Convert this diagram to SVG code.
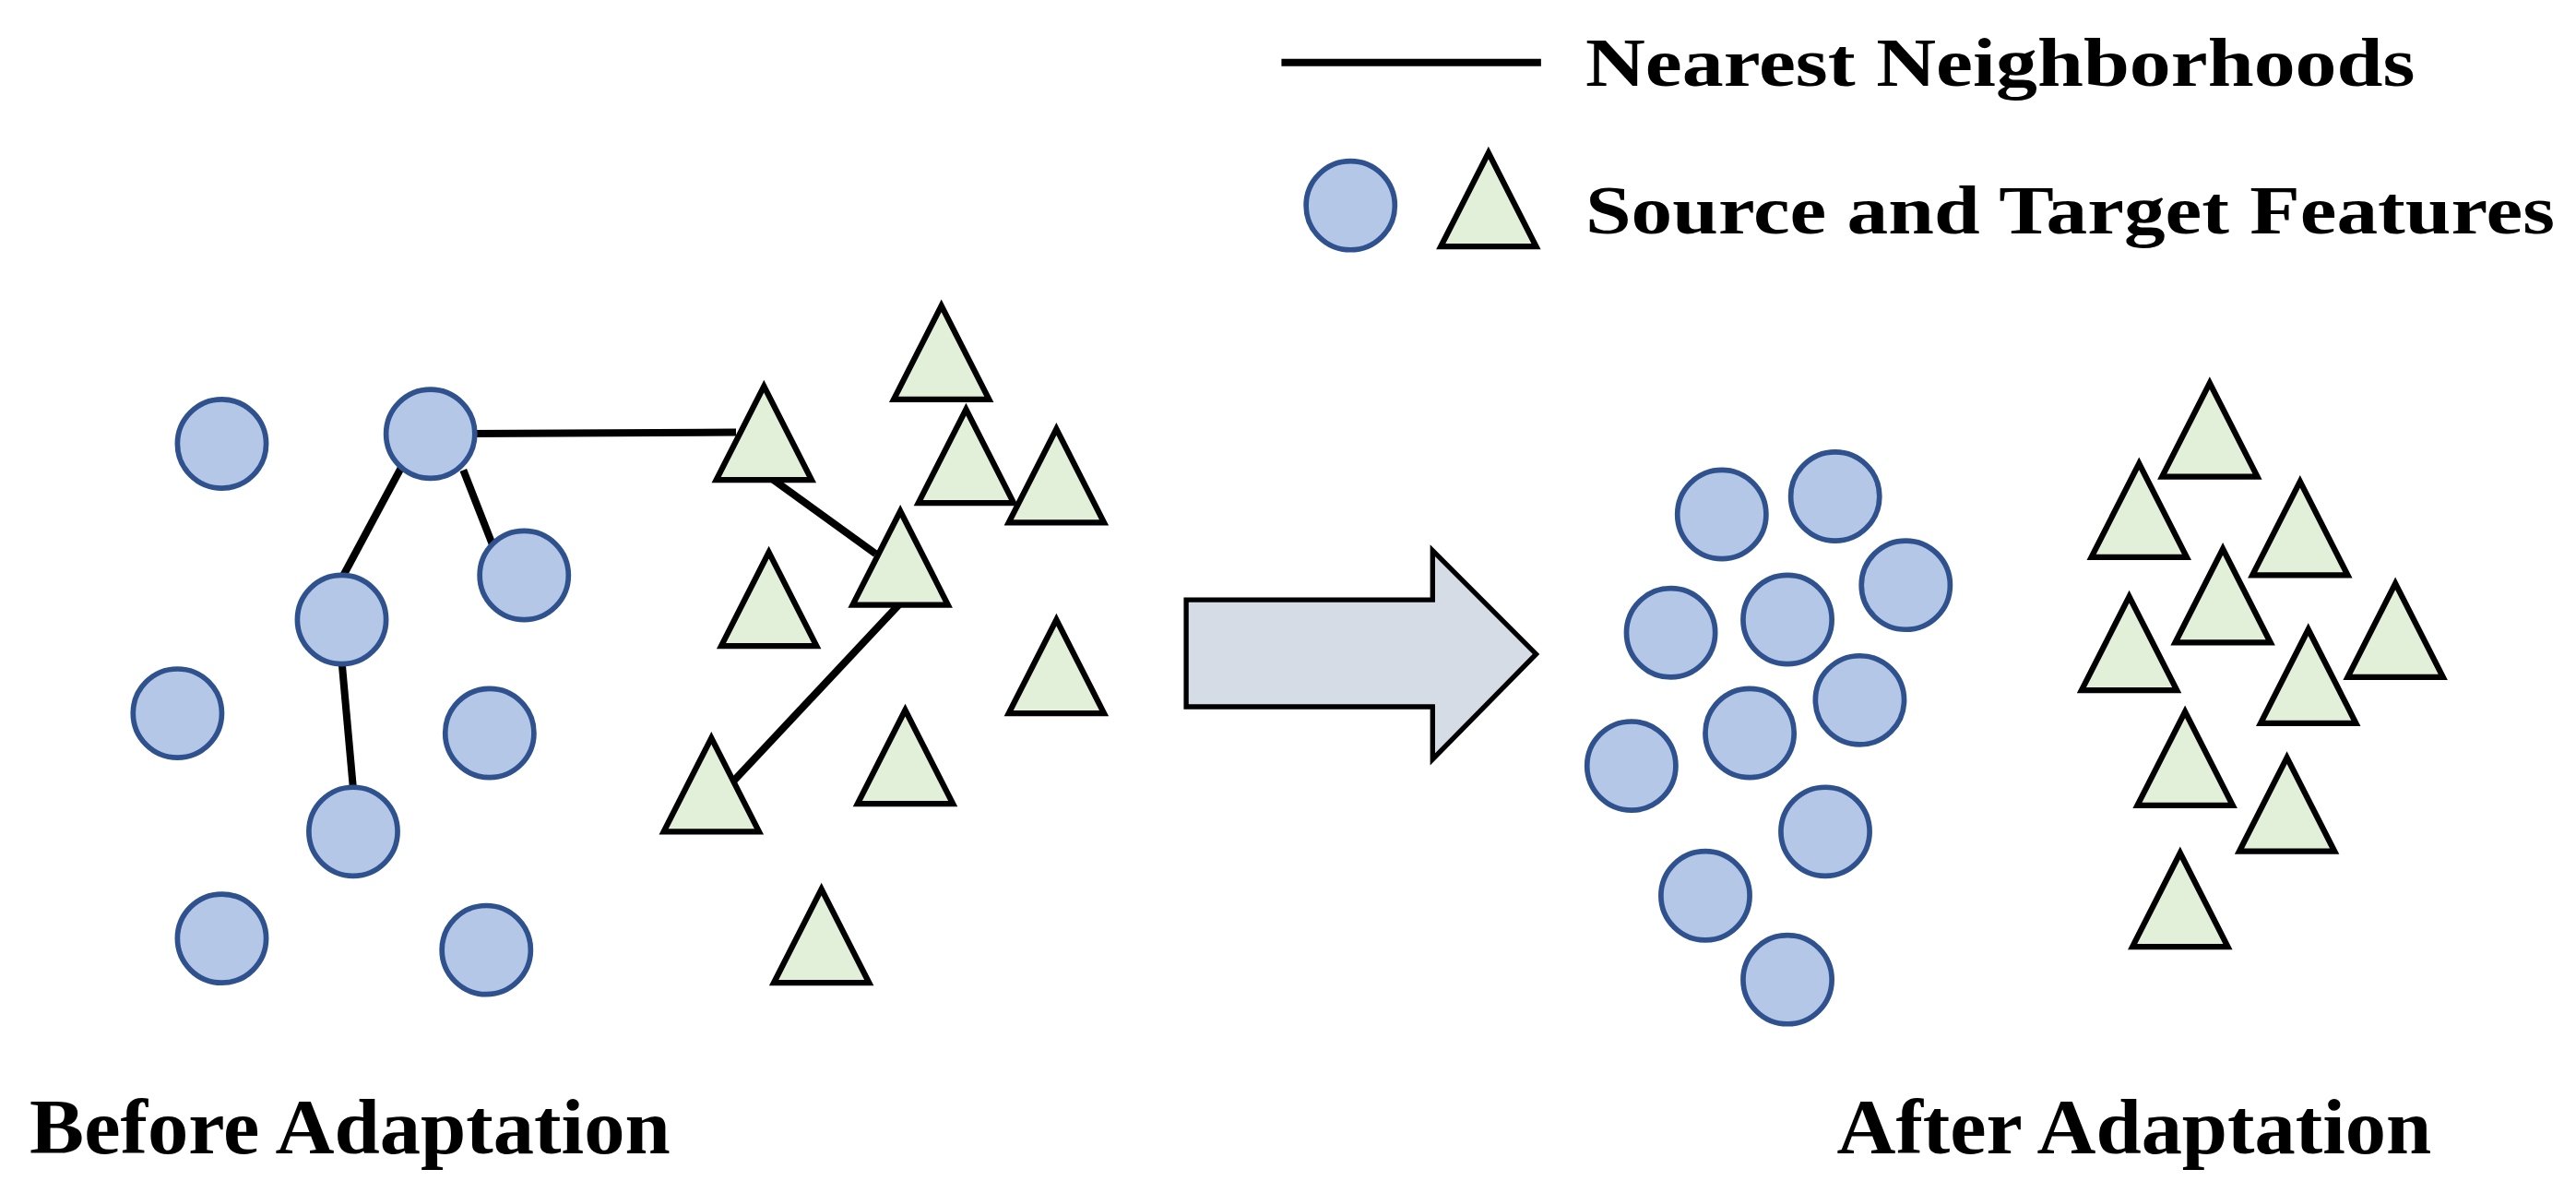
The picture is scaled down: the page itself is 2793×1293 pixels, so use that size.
<svg xmlns="http://www.w3.org/2000/svg" width="2793" height="1293" viewBox="0 0 2793 1293">
<defs>
<style>
.c{fill:#b4c7e7;stroke:#2f528f;stroke-width:3.2}
.t{fill:#e2f0d9;stroke:#000;stroke-width:3.5;stroke-linejoin:miter}
.l{stroke:#000;stroke-width:4.5;fill:none}
.tx{font-family:"Liberation Serif",serif;font-weight:bold;fill:#000}
</style>
<circle id="cir" class="c" r="27"/>
<polygon id="tri" class="t" points="0,-29 -29,28 29,28"/>
</defs>
<rect width="2793" height="1293" fill="#fff"/>
<g transform="scale(1.7813)">
<g id="connectors">
<line class="l" x1="262" y1="264" x2="448" y2="263"/>
<line class="l" x1="468" y1="290" x2="533" y2="337"/>
<line class="l" x1="548" y1="367" x2="442" y2="480"/>
<line class="l" x1="245" y1="283" x2="208" y2="352"/>
<line class="l" x1="282" y1="286" x2="300" y2="332"/>
<line class="l" x1="208" y1="402" x2="215" y2="480"/>
</g>
<g id="before-circles">
<use href="#cir" x="135" y="270"/><use href="#cir" x="262" y="264"/><use href="#cir" x="319" y="350"/>
<use href="#cir" x="208" y="377"/><use href="#cir" x="108" y="434"/><use href="#cir" x="298" y="446"/>
<use href="#cir" x="215" y="506"/><use href="#cir" x="135" y="571"/><use href="#cir" x="296" y="578"/>
</g>
<g id="before-triangles">
<use href="#tri" x="465" y="264"/><use href="#tri" x="573" y="215"/><use href="#tri" x="588" y="278"/>
<use href="#tri" x="643" y="290"/><use href="#tri" x="548" y="340"/><use href="#tri" x="468" y="365"/>
<use href="#tri" x="643" y="406"/><use href="#tri" x="551" y="461"/><use href="#tri" x="433" y="478"/>
<use href="#tri" x="500" y="570"/>
</g>
<g id="arrow">
<polygon points="722,365 872,365 872,335 935,398 872,462 872,430 722,430" fill="#d6dce5" stroke="#000" stroke-width="3"/>
</g>
<g id="after-circles">
<use href="#cir" x="1048" y="313"/><use href="#cir" x="1117" y="302"/><use href="#cir" x="1160" y="356"/>
<use href="#cir" x="1017" y="385"/><use href="#cir" x="1088" y="377"/><use href="#cir" x="1132" y="426"/>
<use href="#cir" x="1065" y="446"/><use href="#cir" x="993" y="466"/><use href="#cir" x="1111" y="506"/>
<use href="#cir" x="1038" y="545"/><use href="#cir" x="1088" y="596"/>
</g>
<g id="after-triangles">
<use href="#tri" x="1345" y="262"/><use href="#tri" x="1302" y="311"/><use href="#tri" x="1400" y="322"/>
<use href="#tri" x="1353" y="363"/><use href="#tri" x="1296" y="392"/><use href="#tri" x="1458" y="384"/>
<use href="#tri" x="1405" y="412"/><use href="#tri" x="1330" y="462"/><use href="#tri" x="1392" y="490"/>
<use href="#tri" x="1327" y="548"/>
</g>
<g id="legend">
<line class="l" x1="780" y1="38" x2="938" y2="38"/>
<text class="tx" x="965" y="52" font-size="42" textLength="505" lengthAdjust="spacingAndGlyphs">Nearest Neighborhoods</text>
<use href="#cir" x="822" y="125"/>
<use href="#tri" x="906" y="122"/>
<text class="tx" x="965" y="142" font-size="42" textLength="590" lengthAdjust="spacingAndGlyphs">Source and Target Features</text>
</g>
<g id="labels">
<text class="tx" x="18" y="702" font-size="48" textLength="390" lengthAdjust="spacingAndGlyphs">Before Adaptation</text>
<text class="tx" x="1118" y="702" font-size="48" textLength="362" lengthAdjust="spacingAndGlyphs">After Adaptation</text>
</g>
</g>
</svg>
